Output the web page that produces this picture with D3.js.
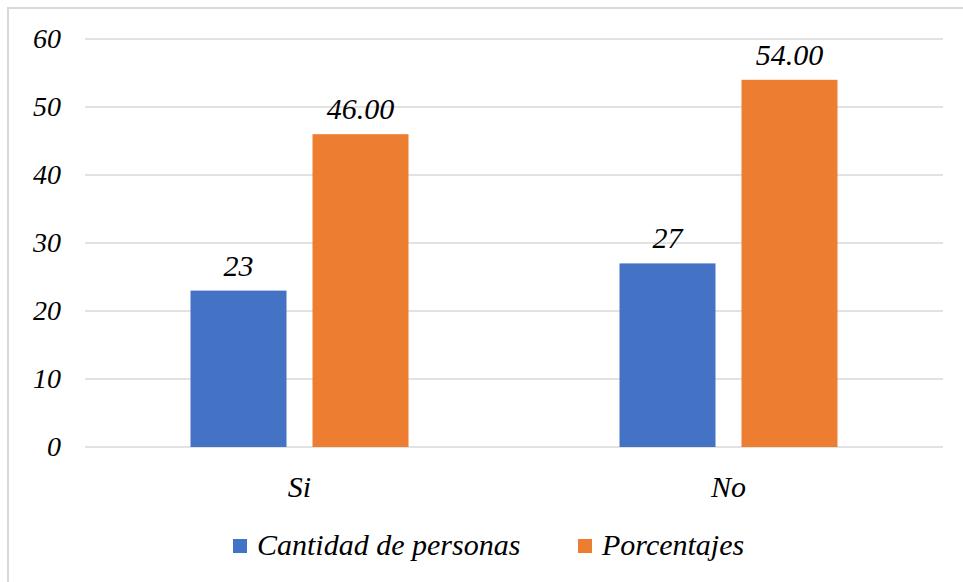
<!DOCTYPE html>
<html><head><meta charset="utf-8">
<script src="https://cdn.jsdelivr.net/npm/d3@7/dist/d3.min.js"></script>
<style>
body{margin:0;background:#fff}
html body svg#chart text.lbl{font-family:"Liberation Serif","Times New Roman",Tinos,serif !important;font-style:italic !important;}
</style>
</head><body>
<script>
const categories = ["Si", "No"];
const seriesNames = ["Cantidad de personas", "Porcentajes"];
const cantidad = [23, 27];
const porcentajes = [46.00, 54.00];
const cantidadLabels = ["23", "27"];
const porcentajeLabels = ["46.00", "54.00"];
const yTicks = [0, 10, 20, 30, 40, 50, 60];
const colors = ["#4472C4", "#ED7D31"];

const W = 963, H = 582;
const FF = '"Liberation Serif", "Times New Roman", Tinos, serif';
const svg = d3.select("body").append("svg").attr("id", "chart").attr("width", W).attr("height", H);
svg.append("rect").attr("width", W).attr("height", H).attr("fill", "#fff");
svg.append("rect").attr("x", 8).attr("y", 8).attr("width", W + 10).attr("height", H + 10)
  .attr("fill", "none").attr("stroke", "#d9d9d9").attr("stroke-width", 2);

const pLeft = 85, pRight = 943, pTop = 39, pBottom = 447;
const xS = d3.scaleBand().domain(categories).range([pLeft, pRight]);
const yS = d3.scaleLinear().domain([0, 60]).range([pBottom, pTop]);

// gridlines
svg.append("g").selectAll("line").data(yTicks).join("line")
  .attr("x1", pLeft).attr("x2", pRight)
  .attr("y1", d => yS(d)).attr("y2", d => yS(d))
  .attr("stroke", "#d9d9d9").attr("stroke-width", 1.5);

// text helper: texts appended directly to the svg root
function addText(x, y, str, size, anchor) {
  return svg.append("text")
    .attr("class", "lbl")
    .attr("x", x).attr("y", y)
    .attr("text-anchor", anchor)
    .attr("font-family", "Liberation Serif")
    .attr("font-style", "italic")
    .attr("font-size", size)
    .attr("fill", "#000")
    .style("font-family", FF, "important")
    .style("font-style", "italic", "important")
    .text(str);
}

// y axis labels from the scale's ticks
const yFmt = yS.tickFormat(7, "d");
yTicks.forEach(t => addText(pLeft - 24, yS(t) + 9, yFmt(t), 28, "end"));

// x axis labels from band scale
categories.forEach(c => addText(xS(c) + xS.bandwidth() / 2, pBottom + 50, c, 30, "middle"));

// bars
const barW = 96, gap = 26;
const sub = d3.scaleOrdinal().domain([0, 1]).range([-(gap / 2 + barW), gap / 2]);
const series = [cantidad, porcentajes];
const labels = [cantidadLabels, porcentajeLabels];

series.forEach((vals, si) => {
  svg.append("g").selectAll("rect").data(categories).join("rect")
    .attr("x", (c) => xS(c) + xS.bandwidth() / 2 + sub(si))
    .attr("y", (c, i) => yS(vals[i]))
    .attr("width", barW)
    .attr("height", (c, i) => pBottom - yS(vals[i]))
    .attr("fill", colors[si]);
  categories.forEach((c, i) => {
    addText(xS(c) + xS.bandwidth() / 2 + sub(si) + barW / 2, yS(vals[i]) - 15, labels[si][i], 30, "middle");
  });
});

// legend
const legendX = [233, 578];
seriesNames.forEach((name, i) => {
  svg.append("rect").attr("x", legendX[i]).attr("y", 539).attr("width", 14).attr("height", 14).attr("fill", colors[i]);
  addText(legendX[i] + 24, 555, name, 30, "start");
});
</script>
</body></html>
